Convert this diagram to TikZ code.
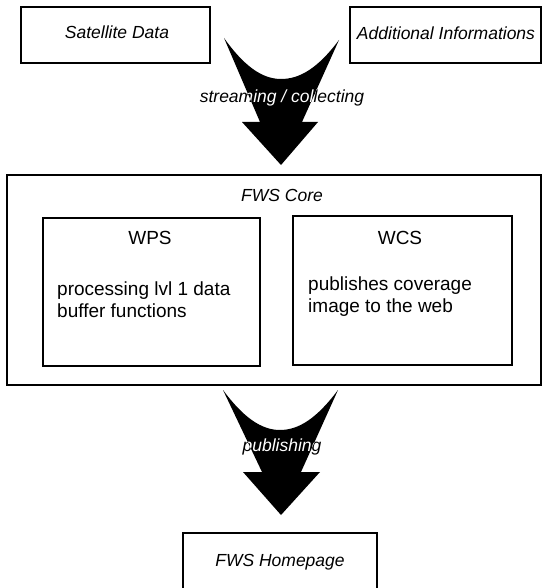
\documentclass[tikz,border=0pt]{standalone}
\usepackage{fontspec}
\setmainfont{Liberation Sans}
\begin{document}
\begin{tikzpicture}[x=1pt,y=-1pt]
\tikzset{
  box/.style={draw, line width=1.6pt, inner sep=0pt, fill=white},
  lbl/.style={font=\itshape\fontsize{17.5}{20}\selectfont, inner sep=0pt},
  ttl/.style={font=\fontsize{19}{22}\selectfont, inner sep=0pt},
  body/.style={font=\fontsize{19}{22}\selectfont, align=left, inner sep=0pt, anchor=west},
  bigarrow/.style={fill=black, draw=none},
  flowlbl/.style={font=\itshape\fontsize{17.5}{20}\selectfont, inner sep=0pt, text=white}
}
\clip (0,0) rectangle (544,588);
\fill[white] (0,0) rectangle (544,588);

% source boxes
\node[box, minimum width=189pt, minimum height=56pt] (sat) at (115.5,35) {};
\node[lbl] (satlbl) at (117,32) {Satellite Data};
\node[box, minimum width=191pt, minimum height=56pt] (add) at (445.5,35) {};
\node[lbl] (addlbl) at (446,33) {Additional Informations};

% core
\node[box, minimum width=534pt, minimum height=210pt] (core) at (274,280) {};
\node[lbl] (corelbl) at (282,195) {FWS Core};
\node[box, minimum width=217pt, minimum height=148pt] (wps) at (151.5,292) {};
\node[ttl] (wpslbl) at (150,238) {WPS};
\node[body] (wpsbody) at (57,300) {processing lvl 1 data\\buffer functions};
\node[box, minimum width=219pt, minimum height=149pt] (wcs) at (402.5,290.5) {};
\node[ttl] (wcslbl) at (400,238) {WCS};
\node[body] (wcsbody) at (308,297) {publishes coverage\\image to the web};

% homepage
\node[box, minimum width=194pt, minimum height=80pt] (home) at (280,573) {};
\node[lbl] (homelbl) at (280,562) {FWS Homepage};

% big arrows
\fill[bigarrow] (224,38) -- (260,122) -- (242,122) -- (281,165) -- (318,122) -- (302,122) -- (339,40)
  .. controls (318,68) and (300,79) .. (281,79) .. controls (262,79) and (244,66) .. (224,38) -- cycle;
\fill[bigarrow] (223,390) -- (262,472) -- (243,472) -- (281,515) -- (320,472) -- (301,472) -- (338,390)
  .. controls (317,418) and (299,430) .. (280,430) .. controls (261,430) and (243,417) .. (223,390) -- cycle;

\begin{scope}[blend mode=difference]
\node[flowlbl] (flow1) at (282,98) {streaming / collecting};
\node[flowlbl] (flow2) at (282,447) {publishing};
\end{scope}
\end{tikzpicture}
\end{document}
